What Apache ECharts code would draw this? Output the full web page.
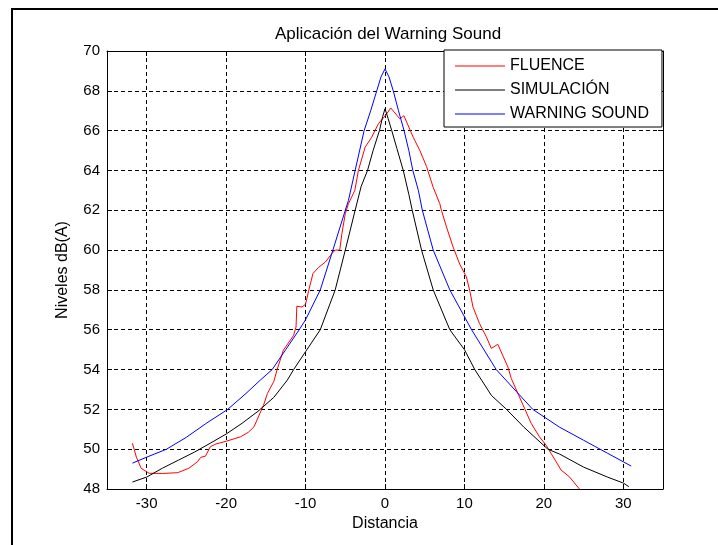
<!DOCTYPE html>
<html><head><meta charset="utf-8">
<script src="https://cdn.jsdelivr.net/npm/echarts@6/dist/echarts.min.js"></script>
<style>html,body{margin:0;padding:0;background:#fff}#c{width:718px;height:545px}</style>
</head><body><div id="c"></div>
<script>
const FONT = '"Liberation Sans", Arial, Helvetica, sans-serif';
const titleText = 'Aplicación del Warning Sound';
const xName = 'Distancia';
const yName = 'Niveles dB(A)';
const seriesNames = ['FLUENCE', 'SIMULACIÓN', 'WARNING SOUND'];

const fluenceX = [-31.8,-31.3,-30.7,-29.7,-28,-26.1,-24.7,-23.6,-23.2,-22.6,-22.0,-21.3,-19.9,-18.2,-17.2,-16.5,-15.3,-14.8,-14.0,-13.6,-12.8,-11.5,-11.2,-11.1,-10.45,-10.0,-9.6,-9.07,-8.4,-7.5,-6.7,-6.27,-5.7,-5.43,-5.0,-4.6,-3.8,-3.35,-2.5,-1.67,-0.84,0.21,0.72,1.88,2.38,3.55,4.39,5.23,6.06,6.9,7.1,7.74,8.57,9.4,10.25,10.66,11.08,11.9,12.76,13.39,14.2,15.47,15.9,16.73,17.57,18.4,19.45,20.28,20.9,21.55,22.17,23.2,24.06,24.6];
const fluenceY = [50.3,49.6,49.04,48.79,48.78,48.82,49.04,49.37,49.59,49.65,50.12,50.26,50.41,50.62,50.85,51.12,52.2,52.8,53.4,53.97,54.97,55.72,56.14,57.18,57.14,57.28,57.98,58.82,59.12,59.4,59.82,60.0,60.0,60.82,61.83,62.33,63.0,64.0,65.17,65.67,66.34,66.84,67.14,66.59,66.75,65.67,65.0,64.2,63.16,62.33,62.0,61.16,60.16,59.3,58.65,57.98,57.14,56.31,55.64,55.06,55.27,54.13,53.55,52.8,52.05,51.3,50.62,50.2,49.79,49.37,48.95,48.62,48.2,47.95];

const simX = [-31.8,-30,-28,-26,-24,-22,-20,-18,-16,-14,-12.3,-11.5,-10,-8.15,-6.27,-5,-3.76,-3.0,-2.2,-1.5,-0.7,-0.3,0,0.4,0.85,1.5,2.3,3.0,3.43,4.6,6.07,8.16,10,11.3,13.4,15.3,17.5,20.5,22,25,28,30,30.7];
const simY = [48.35,48.6,49.05,49.45,49.85,50.3,50.76,51.3,51.9,52.6,53.47,54.0,54.9,56,58,60,62,63.2,64,65,66,66.7,67.1,66.6,66,65.1,64,62.8,62,60,58,56,55,54,52.7,52,51.1,50,49.75,49.1,48.6,48.3,48.12];

const warnX = [-31.8,-30,-27.5,-25,-22.5,-19.8,-17.5,-15.7,-14.2,-12.5,-10.8,-10,-8.15,-6.56,-5.0,-4.6,-3.76,-2.63,-1.8,-1.04,-0.5,0,0.5,1.04,1.7,2.4,3.0,3.5,4.2,4.7,6.07,8.16,10.9,14.0,18.6,22,25,28,31];
const warnY = [49.3,49.6,50.0,50.6,51.3,52.0,52.8,53.47,54.0,55,56,56.5,58,60,62,62.5,64,66,67,68,68.7,69.1,68.7,68,67,66,65,64,63,62,60,58,56,54,52,51.1,50.45,49.8,49.15];

const seriesColors = ['#ff0000', '#000000', '#0000ff'];
const pairs = (xs, ys) => xs.map((x, i) => [x, ys[i]]);
const seriesData = [pairs(fluenceX, fluenceY), pairs(simX, simY), pairs(warnX, warnY)];

const chart = echarts.init(document.getElementById('c'), null, {renderer: 'canvas'});
const dashed = {show: true, lineStyle: {color: '#000', width: 1, type: [4, 3]}};
const axisLine = {show: true, onZero: false, lineStyle: {color: '#000', width: 1}};
const tick = {show: true, inside: true, length: 5, lineStyle: {color: '#000'}};
const label = {color: '#000', fontSize: 15, fontFamily: FONT};

chart.setOption({
  animation: false,
  backgroundColor: '#fff',
  textStyle: {fontFamily: FONT},
  title: {text: titleText, left: 383, top: 21, textAlign: 'center',
    textStyle: {fontSize: 17, fontWeight: 'normal', color: '#000', fontFamily: FONT}},
  grid: {left: 107, right: 55, top: 51, bottom: 56, containLabel: false},
  legend: {orient: 'vertical', left: 444, top: 50, padding: [8, 13, 5, 11], itemGap: 8,
    itemWidth: 50, itemHeight: 1, icon: 'rect', backgroundColor: '#fff', borderColor: '#000', borderWidth: 1,
    textStyle: {fontSize: 16, color: '#000', fontFamily: FONT, lineHeight: 16},
    data: seriesNames, z: 10},
  xAxis: [
    {type: 'value', min: -35, max: 35, splitNumber: 7, position: 'bottom',
     axisLine: axisLine, axisTick: tick,
     axisLabel: Object.assign({margin: 7, showMinLabel: false, showMaxLabel: false}, label),
     splitLine: dashed,
     name: xName, nameLocation: 'middle', nameGap: 26,
     nameTextStyle: {fontSize: 16, color: '#000', fontFamily: FONT}},
    {type: 'value', min: -35, max: 35, splitNumber: 7, position: 'top',
     axisLine: axisLine, axisTick: tick, axisLabel: {show: false}, splitLine: {show: false}}
  ],
  yAxis: [
    {type: 'value', min: 48, max: 70, interval: 2, position: 'left',
     axisLine: axisLine, axisTick: tick,
     axisLabel: Object.assign({margin: 7}, label),
     splitLine: dashed,
     name: yName, nameLocation: 'middle', nameGap: 36,
     nameTextStyle: {fontSize: 16, color: '#000', fontFamily: FONT}},
    {type: 'value', min: 48, max: 70, interval: 2, position: 'right',
     axisLine: axisLine, axisTick: tick, axisLabel: {show: false}, splitLine: {show: false}}
  ],
  series: seriesNames.map((n, i) => ({
    name: n, type: 'line', data: seriesData[i], symbol: 'none', showSymbol: false,
    smooth: false, clip: true, xAxisIndex: 0, yAxisIndex: 0,
    color: seriesColors[i], lineStyle: {color: seriesColors[i], width: 1}
  })),
  graphic: [{type: 'rect', shape: {x: 12, y: 9, width: 800, height: 600},
    style: {fill: 'none', stroke: '#000', lineWidth: 2}, silent: true}]
});
</script></body></html>
